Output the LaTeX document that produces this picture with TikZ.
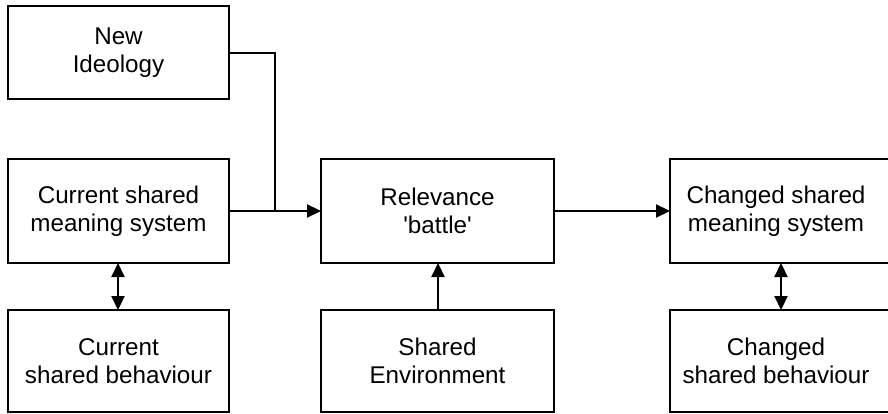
\documentclass[tikz,border=0pt]{standalone}
\usepackage{fontspec}
\setmainfont{Liberation Sans}
\usetikzlibrary{arrows.meta}
\begin{document}
\begin{tikzpicture}[x=1pt,y=-1pt,
  box/.style={draw=black,line width=2.2pt},
  lbl/.style={align=center,font=\fontsize{24.2}{27.5}\selectfont,inner sep=0pt},
  tip/.style={},
  conn/.style={line width=2.2pt,-{Triangle[length=14pt,width=13pt]}},
  dconn/.style={line width=2.2pt,{Triangle[length=14pt,width=13pt]}-{Triangle[length=14pt,width=13pt]}}]
\useasboundingbox (0,0) rectangle (888,414);
\fill[white] (0,0) rectangle (888,414);
% boxes
\draw[box] (8,6) rectangle (229,99);
\node[lbl] (ni) at (118.5,52.5) {New\\Ideology};
\draw[box] (8,159) rectangle (229,263);
\node[lbl] (cm) at (118.5,211) {Current shared\\meaning system};
\draw[box] (8,310) rectangle (229,412);
\node[lbl] (cb) at (118.5,361) {Current\\shared behaviour};
\draw[box] (321,159) rectangle (554,263);
\node[lbl] (rb) at (437.5,211) {Relevance\\\textquotesingle battle\textquotesingle};
\draw[box] (321,310) rectangle (554,412);
\node[lbl] (se) at (437.5,361) {Shared\\Environment};
\draw[box] (670,159) rectangle (892,263);
\node[lbl] (chm) at (776,211) {Changed shared\\meaning system};
\draw[box] (670,310) rectangle (892,412);
\node[lbl] (chb) at (776,361) {Changed\\shared behaviour};
% anchor coordinates
\coordinate (niR) at (229,53);
\coordinate (jn) at (275,211);
\coordinate (cmR) at (229,211);
\coordinate (rbL) at (321,211);
\coordinate (rbR) at (554,211);
\coordinate (chmL) at (670,211);
\coordinate (cmB) at (118,263);
\coordinate (cbT) at (118,310);
\coordinate (rbB) at (438,263);
\coordinate (seT) at (438,310);
\coordinate (chmB) at (781,263);
\coordinate (chbT) at (781,310);
% connectors
\draw[line width=2.2pt] (niR) -| (jn);
\draw[conn] (cmR) -- (rbL);
\draw[conn] (rbR) -- (chmL);
\draw[dconn] (cmB) -- (cbT);
\draw[conn] (seT) -- (rbB);
\draw[dconn] (chmB) -- (chbT);
\end{tikzpicture}
\end{document}
